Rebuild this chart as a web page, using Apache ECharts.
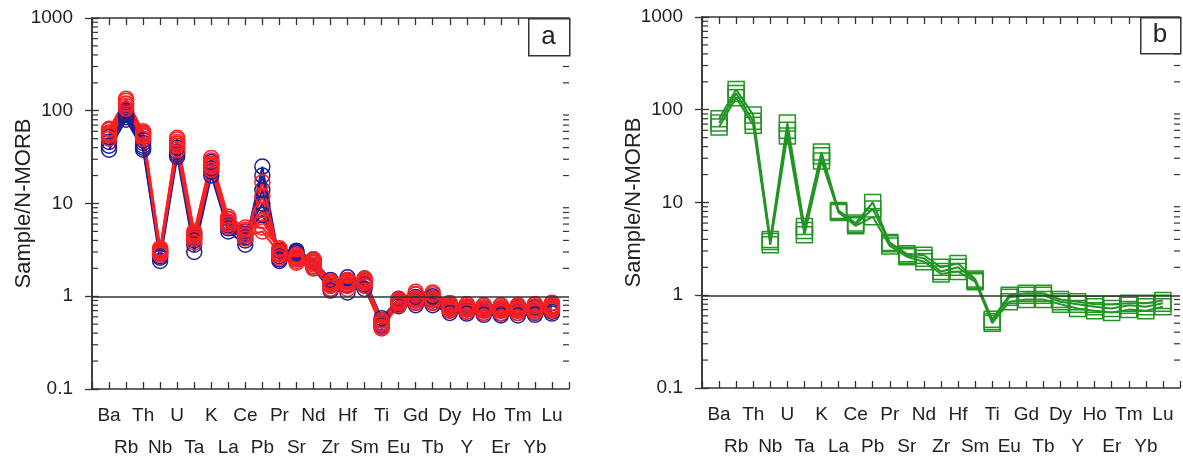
<!DOCTYPE html>
<html>
<head>
<meta charset="utf-8">
<script src="https://cdn.jsdelivr.net/npm/echarts@6/dist/echarts.min.js"></script>
<style>
html,body{margin:0;padding:0;background:#fff;}
#chart{width:1183px;height:458px;}
</style>
</head>
<body>
<div id="chart"></div>
<script>
// ---- Data ----
const elements = ['Ba','Rb','Th','Nb','U','Ta','K','La','Ce','Pb','Pr','Sr','Nd','Zr','Hf','Sm','Ti','Eu','Gd','Tb','Dy','Y','Ho','Er','Tm','Yb','Lu'];
const yTickLabels = ['0.1','1','10','100','1000'];
const minorMultipliers = [2,3,4,5,6,7,8,9];
const decades = [0.1,1,10,100];

// Panel a – blue samples
const blue1 = [38,80,38,2.4,32,3.0,20,5.0,3.6,25,2.4,2.8,2.0,1.15,1.6,1.2,0.5,0.78,0.8,0.8,0.66,0.65,0.63,0.62,0.62,0.63,0.65];
const blue2 = [42,85,40,2.6,34,3.6,22,5.4,4.0,20,2.5,3.0,2.1,1.2,1.1,1.3,0.48,0.82,0.85,0.85,0.7,0.68,0.66,0.65,0.66,0.66,0.68];
const blue3 = [46,90,42,2.7,36,4.0,24,5.8,4.3,14,2.7,2.6,2.3,1.3,1.3,1.35,0.52,0.86,0.9,0.9,0.74,0.72,0.7,0.7,0.7,0.7,0.72];
const blue4 = [52,95,45,2.9,40,4.3,26,6.2,4.7,10,2.9,2.9,2.4,1.4,1.45,1.45,0.55,0.9,0.98,0.96,0.78,0.76,0.74,0.74,0.75,0.76,0.78];
const blue5 = [58,100,48,3.1,44,4.6,28,6.8,5.0,7.5,3.1,3.1,2.5,1.5,1.5,1.55,0.58,0.94,1.05,1.0,0.84,0.82,0.8,0.8,0.8,0.82,0.84];
// Panel a – red samples
const red1 = [50,105,50,2.8,38,3.8,23,5.6,4.2,17,2.6,2.4,2.1,1.2,1.2,1.3,0.45,0.8,0.85,0.85,0.7,0.68,0.66,0.66,0.66,0.67,0.7];
const red2 = [54,112,53,3.0,42,4.2,25,6.0,4.6,12,2.8,2.5,2.2,1.3,1.3,1.4,0.47,0.84,0.9,0.9,0.73,0.72,0.7,0.7,0.7,0.7,0.73];
const red3 = [58,120,56,3.1,46,4.6,27,6.4,4.9,8.5,3.0,2.7,2.3,1.35,1.4,1.45,0.5,0.88,0.95,0.95,0.77,0.75,0.73,0.73,0.74,0.74,0.77];
const red4 = [62,128,58,3.2,49,5.0,29,6.8,5.2,6.5,3.2,2.8,2.4,1.4,1.45,1.5,0.52,0.9,1.05,1.05,0.8,0.78,0.76,0.76,0.77,0.78,0.8];
const red5 = [64,135,60,3.3,51,4.8,31,7.2,5.5,5.5,3.3,2.6,2.5,1.45,1.5,1.55,0.55,0.93,1.12,1.1,0.84,0.82,0.8,0.8,0.8,0.82,0.85];
const red6 = [56,118,54,2.9,44,4.4,26,6.1,4.5,5.0,2.9,2.3,2.0,1.3,1.35,1.4,0.46,0.85,0.92,0.92,0.75,0.74,0.72,0.72,0.72,0.73,0.75];
// Panel b – green samples
const green1 = [65,135,68,3.5,52,4.5,28,7.8,5.6,7,3.4,2.6,2.3,1.7,1.8,1.4,0.5,0.85,0.9,0.9,0.8,0.72,0.68,0.65,0.7,0.68,0.75];
const green2 = [72,150,75,3.8,60,5.0,32,8.0,5.8,8.5,3.6,2.7,2.5,1.8,2.0,1.45,0.52,0.95,1.0,1.0,0.85,0.8,0.75,0.72,0.78,0.75,0.82];
const green3 = [80,165,88,4.0,72,5.5,35,8.2,6.0,10,3.7,2.8,2.7,2.0,2.2,1.5,0.55,1.0,1.05,1.05,0.9,0.85,0.8,0.8,0.82,0.82,0.88];

const blueSamples = [blue1,blue2,blue3,blue4,blue5];
const redSamples = [red1,red2,red3,red4,red5,red6];
const greenSamples = [green1,green2,green3];

// ---- Styling ----
const FONT = 'Liberation Sans, Arial, sans-serif';
const TXT = '#222';
const AX = '#333';
const BLUE = '#1f1f8f';
const RED = '#ff1f1f';
const GREEN = '#249524';

const minorValues = [];
decades.forEach(d => minorMultipliers.forEach(m => minorValues.push(+(d*m).toPrecision(3))));

function xAxes(gi) {
  const base = {
    type: 'value', gridIndex: gi, min: 0, max: elements.length + 1, interval: 1,
    axisLine: {show: true, lineStyle: {color: AX, width: 1.5}},
    axisTick: {show: true, inside: true, length: 7, lineStyle: {color: AX, width: 1.3}},
    splitLine: {show: false}
  };
  return [
    Object.assign({}, base, {
      position: 'bottom',
      axisLabel: {
        show: true, margin: 11, fontFamily: FONT, fontSize: 19, color: TXT, lineHeight: 32,
        showMinLabel: true, showMaxLabel: true,
        formatter: v => {
          const i = Math.round(v) - 1;
          if (i < 0 || i >= elements.length) return '';
          return i % 2 === 0 ? elements[i] : '\n' + elements[i];
        }
      }
    }),
    Object.assign({}, base, {position: 'top', axisLabel: {show: false}})
  ];
}

function yAxes(gi) {
  const base = {
    type: 'log', logBase: 10, gridIndex: gi, min: 0.1, max: 1000, splitNumber: 4,
    axisLine: {show: true, lineStyle: {color: AX, width: 1.5}},
    axisTick: {show: true, inside: true, length: 7, lineStyle: {color: AX, width: 1.3}},
    splitLine: {show: false}
  };
  return [
    Object.assign({}, base, {
      position: 'left',
      name: 'Sample/N-MORB', nameLocation: 'middle', nameRotate: 90, nameGap: 57,
      nameMoveOverlap: false,
      nameTextStyle: {fontFamily: FONT, fontSize: 22, color: TXT},
      axisLabel: {
        show: true, margin: 19, fontFamily: FONT, fontSize: 19, color: TXT,
        padding: [14, 0, 0, 0],
        formatter: v => {
          const k = Math.round(Math.log10(v)) + 1;
          return yTickLabels[k] !== undefined ? yTickLabels[k] : '';
        }
      }
    }),
    Object.assign({}, base, {position: 'right', axisLabel: {show: false}})
  ];
}

const xAxis = [...xAxes(0), ...xAxes(1)];
const yAxis = [...yAxes(0), ...yAxes(1)];

function sampleSeries(arr, color, symbol, size, xi, yi) {
  return {
    type: 'line', xAxisIndex: xi, yAxisIndex: yi,
    data: arr.map((v, i) => [i + 1, v]),
    symbol: symbol, symbolSize: size,
    itemStyle: {color: 'rgba(0,0,0,0)', borderColor: color, borderWidth: 1.5},
    lineStyle: {color: color, width: 2},
    emphasis: {disabled: true}, silent: true, animation: false, z: 3
  };
}

function minorTickSeries(xi, yi) {
  return {
    type: 'custom', xAxisIndex: xi, yAxisIndex: yi, silent: true, animation: false, z: 5,
    data: minorValues.map(v => [0, v]),
    clip: false,
    renderItem: (params, api) => {
      const v = api.value(1);
      const pL = api.coord([0, v]);
      const pR = api.coord([elements.length + 1, v]);
      const st = {stroke: AX, lineWidth: 1.2};
      return {type: 'group', children: [
        {type: 'line', shape: {x1: pL[0], y1: pL[1], x2: pL[0] + 6, y2: pL[1]}, style: st},
        {type: 'line', shape: {x1: pR[0] - 6, y1: pR[1], x2: pR[0], y2: pR[1]}, style: st}
      ]};
    }
  };
}

function refLine(xi, yi) {
  return {
    type: 'line', xAxisIndex: xi, yAxisIndex: yi, data: [], silent: true, animation: false,
    markLine: {
      silent: true, symbol: ['none','none'], label: {show: false}, animation: false,
      lineStyle: {color: AX, width: 1.5, type: 'solid'},
      emphasis: {disabled: true},
      data: [{yAxis: 1}]
    }
  };
}

const series = [
  refLine(0, 0),
  ...blueSamples.map(s => sampleSeries(s, BLUE, 'circle', 15, 0, 0)),
  ...redSamples.map(s => sampleSeries(s, RED, 'circle', 15, 0, 0)),
  minorTickSeries(0, 0),
  refLine(2, 2),
  ...greenSamples.map(s => sampleSeries(s, GREEN, 'rect', 16, 2, 2)),
  minorTickSeries(2, 2)
];

const chart = echarts.init(document.getElementById('chart'), null, {renderer: 'canvas'});
chart.setOption({
  backgroundColor: '#fff',
  animation: false,
  grid: [
    {left: 92, top: 18, width: 477, height: 371, containLabel: false, outerBoundsMode: 'none'},
    {left: 702, top: 17, width: 478, height: 371, containLabel: false, outerBoundsMode: 'none'}
  ],
  xAxis: xAxis,
  yAxis: yAxis,
  series: series,
  graphic: [
    {type: 'rect', left: 528, top: 18, shape: {width: 41, height: 37}, style: {fill: '#fff', stroke: AX, lineWidth: 1.5}, z: 10},
    {type: 'text', x: 548.5, y: 37, style: {text: 'a', font: '26px ' + FONT, fill: TXT, align: 'center', verticalAlign: 'middle'}, z: 11},
    {type: 'rect', left: 1140, top: 17, shape: {width: 40, height: 36}, style: {fill: '#fff', stroke: AX, lineWidth: 1.5}, z: 10},
    {type: 'text', x: 1160, y: 35, style: {text: 'b', font: '26px ' + FONT, fill: TXT, align: 'center', verticalAlign: 'middle'}, z: 11}
  ]
});
</script>
</body>
</html>
